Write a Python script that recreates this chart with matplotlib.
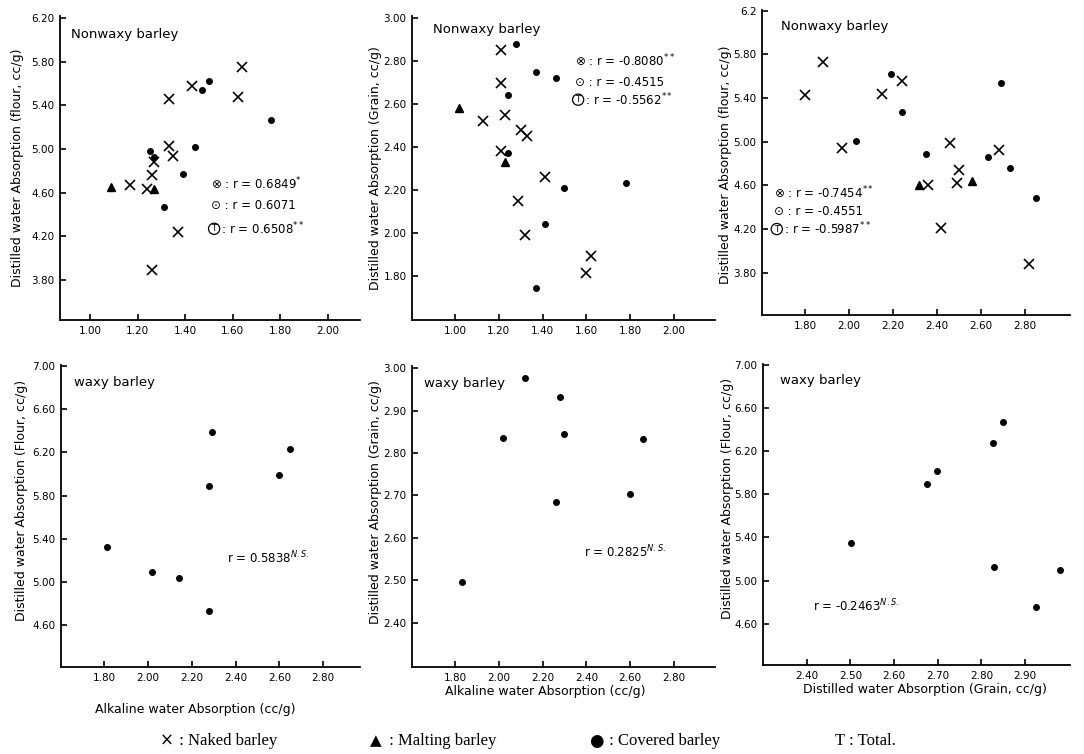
import matplotlib
matplotlib.use("Agg")
import matplotlib.pyplot as plt

W, H = 1084, 754

# ---------------- data ----------------
# Panel 1: Nonwaxy, alkaline water absorption vs distilled water absorption (flour)
p1_naked_x = [1.64, 1.43, 1.33, 1.62, 1.33, 1.35, 1.27, 1.26, 1.17, 1.24, 1.37, 1.26]
p1_naked_y = [5.75, 5.58, 5.46, 5.48, 5.03, 4.94, 4.88, 4.76, 4.67, 4.63, 4.24, 3.89]
p1_covered_x = [1.50, 1.47, 1.76, 1.25, 1.27, 1.44, 1.39, 1.31]
p1_covered_y = [5.62, 5.54, 5.27, 4.98, 4.93, 5.02, 4.77, 4.47]
p1_malting_x = [1.09, 1.27]
p1_malting_y = [4.65, 4.63]

# Panel 2: Nonwaxy, alkaline vs distilled water absorption (grain)
p2_naked_x = [1.21, 1.21, 1.23, 1.13, 1.30, 1.33, 1.21, 1.41, 1.29, 1.32, 1.62, 1.60]
p2_naked_y = [2.85, 2.70, 2.55, 2.52, 2.48, 2.45, 2.38, 2.26, 2.15, 1.99, 1.89, 1.81]
p2_covered_x = [1.28, 1.37, 1.46, 1.24, 1.24, 1.50, 1.78, 1.41, 1.37]
p2_covered_y = [2.88, 2.75, 2.72, 2.64, 2.37, 2.21, 2.23, 2.04, 1.74]
p2_malting_x = [1.02, 1.23]
p2_malting_y = [2.58, 2.33]

# Panel 3: Nonwaxy, distilled (grain) vs distilled (flour)
p3_naked_x = [1.88, 1.80, 2.15, 2.24, 1.97, 2.46, 2.68, 2.50, 2.49, 2.36, 2.42, 2.82]
p3_naked_y = [5.73, 5.43, 5.44, 5.56, 4.94, 4.99, 4.92, 4.74, 4.62, 4.60, 4.21, 3.88]
p3_covered_x = [2.19, 2.24, 2.03, 2.35, 2.69, 2.63, 2.73, 2.85]
p3_covered_y = [5.62, 5.27, 5.01, 4.89, 5.54, 4.86, 4.76, 4.48]
p3_malting_x = [2.32, 2.56]
p3_malting_y = [4.60, 4.64]

# Panel 4-6: Waxy barley (covered)
p4_x = [2.29, 2.65, 2.60, 2.28, 1.81, 2.02, 2.14, 2.28]
p4_y = [6.39, 6.23, 5.99, 5.89, 5.32, 5.09, 5.04, 4.73]
p5_x = [2.12, 2.28, 2.30, 2.02, 2.66, 2.26, 2.60, 1.83]
p5_y = [2.977, 2.932, 2.846, 2.835, 2.832, 2.684, 2.704, 2.496]
p6_x = [2.850, 2.826, 2.698, 2.675, 2.501, 2.829, 2.980, 2.925]
p6_y = [6.47, 6.28, 6.02, 5.90, 5.35, 5.13, 5.10, 4.75]

r_top = [["0.6849*", "0.6071", "0.6508**"],
         ["-0.8080**", "-0.4515", "-0.5562**"],
         ["-0.7454**", "-0.4551", "-0.5987**"]]
r_bottom = ["0.5838", "0.2825", "-0.2463"]

fig = plt.figure(figsize=(W / 100, H / 100), dpi=100)
plt.rcParams['font.family'] = ['DejaVu Sans']


def add_ax(l, t, r, b, xlim, ylim, xticks, yticks, yticklabels=None):
    ax = fig.add_axes([l / W, 1 - b / H, (r - l) / W, (b - t) / H])
    ax.set_xlim(*xlim)
    ax.set_ylim(*ylim)
    for s in ("top", "right"):
        ax.spines[s].set_visible(False)
    for s in ("left", "bottom"):
        ax.spines[s].set_linewidth(1.3)
    ax.set_xticks(xticks)
    ax.set_xticklabels([f"{v:.2f}" for v in xticks])
    ax.set_yticks(yticks)
    ax.set_yticklabels(yticklabels if yticklabels else [f"{v:.2f}" for v in yticks])
    ax.tick_params(direction="in", length=4, width=1.2, labelsize=7.5, pad=4)
    return ax


def draw(ax, nx=None, ny=None, cx=None, cy=None, mx=None, my=None):
    if nx:
        ax.plot(nx, ny, "x", color="black", ms=6.5, mew=1.2, ls="none")
    if cx:
        ax.plot(cx, cy, "o", color="black", ms=4, ls="none")
    if mx:
        ax.plot(mx, my, "^", color="black", ms=6, ls="none")


def rblock(ax, x, ys, vals):
    syms = ["⊗", "⊙", None]
    for s, y, v in zip(syms, ys, vals):
        base, star = (v.rstrip("*"), v[len(v.rstrip("*")):])
        body = f" : r = {base}" + (f"$^{{{star}}}$" if star else "")
        if s is None:
            t = ax.text(x, y, "T", fontsize=6.5, va="center", ha="left",
                        bbox=dict(boxstyle="circle,pad=0.12", fc="none", ec="black", lw=0.9))
            ax.annotate(body, xy=(1, 0.5), xycoords=t, xytext=(1, 0),
                        textcoords="offset points", fontsize=8.5, va="center", ha="left")
        else:
            ax.text(x, y, s + body, fontsize=8.5, va="center", ha="left")


# ---- top row ----
ax1 = add_ax(60, 16, 360, 320, (0.874, 2.134), (3.434, 6.22),
             [1.0, 1.2, 1.4, 1.6, 1.8, 2.0], [3.8, 4.2, 4.6, 5.0, 5.4, 5.8, 6.2])
draw(ax1, p1_naked_x, p1_naked_y, p1_covered_x, p1_covered_y, p1_malting_x, p1_malting_y)
rblock(ax1, 1.51, [4.68, 4.48, 4.27], r_top[0])
ax1.text(0.92, 6.02, "Nonwaxy barley", fontsize=9.5)

ax2 = add_ax(412, 16, 715, 320, (0.804, 2.187), (1.593, 3.01),
             [1.0, 1.2, 1.4, 1.6, 1.8, 2.0], [1.8, 2.0, 2.2, 2.4, 2.6, 2.8, 3.0])
draw(ax2, p2_naked_x, p2_naked_y, p2_covered_x, p2_covered_y, p2_malting_x, p2_malting_y)
rblock(ax2, 1.55, [2.80, 2.70, 2.62], r_top[1])
ax2.text(0.90, 2.93, "Nonwaxy barley", fontsize=9.5)

ax3 = add_ax(762, 10, 1070, 315, (1.605, 3.005), (3.413, 6.206),
             [1.8, 2.0, 2.2, 2.4, 2.6, 2.8], [3.8, 4.2, 4.6, 5.0, 5.4, 5.8, 6.2],
             ["3.80", "4.20", "4.60", "5.00", "5.40", "5.80", "6.2"])
draw(ax3, p3_naked_x, p3_naked_y, p3_covered_x, p3_covered_y, p3_malting_x, p3_malting_y)
rblock(ax3, 1.66, [4.53, 4.36, 4.20], r_top[2])
ax3.text(1.69, 6.02, "Nonwaxy barley", fontsize=9.5)

# ---- bottom row ----
ax4 = add_ax(61, 365, 360, 667, (1.602, 2.968), (4.211, 7.01),
             [1.8, 2.0, 2.2, 2.4, 2.6, 2.8], [4.6, 5.0, 5.4, 5.8, 6.2, 6.6, 7.0])
draw(ax4, cx=p4_x, cy=p4_y)
ax4.text(2.36, 5.22, f"r = {r_bottom[0]}$^{{N.S.}}$", fontsize=8.5, va="center")
ax4.text(1.66, 6.82, "waxy barley", fontsize=9.5)

ax5 = add_ax(412, 366, 715, 667, (1.604, 2.987), (2.296, 3.005),
             [1.8, 2.0, 2.2, 2.4, 2.6, 2.8], [2.4, 2.5, 2.6, 2.7, 2.8, 2.9, 3.0])
draw(ax5, cx=p5_x, cy=p5_y)
ax5.text(2.39, 2.566, f"r = {r_bottom[1]}$^{{N.S.}}$", fontsize=8.5, va="center")
ax5.text(1.66, 2.955, "waxy barley", fontsize=9.5)

ax6 = add_ax(763, 364, 1070, 665, (2.30, 3.003), (4.216, 7.01),
             [2.4, 2.5, 2.6, 2.7, 2.8, 2.9], [4.6, 5.0, 5.4, 5.8, 6.2, 6.6, 7.0])
draw(ax6, cx=p6_x, cy=p6_y)
ax6.text(2.415, 4.76, f"r = {r_bottom[2]}$^{{N.S.}}$", fontsize=8.5, va="center")
ax6.text(2.34, 6.82, "waxy barley", fontsize=9.5)

# ---- axis labels (figure pixel positions) ----
def ftext(x, y, s, **kw):
    fig.text(x / W, 1 - y / H, s, **kw)

ylab_flour = "Distilled water Absorption (flour, cc/g)"
ylab_grain = "Distilled water Absorption (Grain, cc/g)"
ylab_Flour = "Distilled water Absorption (Flour, cc/g)"
for x, y, s in [(18, 168, ylab_flour), (375, 168, ylab_grain), (726, 165, ylab_flour),
                (22, 500, ylab_Flour), (376, 502, ylab_grain), (727, 498, ylab_Flour)]:
    ftext(x, y, s, rotation=90, ha="center", va="center", fontsize=9)

ftext(195, 710, "Alkaline water Absorption (cc/g)", ha="center", va="center", fontsize=9)
ftext(545, 692, "Alkaline water Absorption (cc/g)", ha="center", va="center", fontsize=9)
ftext(925, 690, "Distilled water Absorption (Grain, cc/g)", ha="center", va="center", fontsize=9)

# ---- legend line ----
serif = ["Liberation Serif", "DejaVu Serif"]
ftext(160, 741, "×", fontsize=12, family=["DejaVu Sans"], va="center")
ftext(175, 741, " : Naked barley", fontsize=12, family=serif, va="center")
ftext(370, 741, "▲", fontsize=11, family=["DejaVu Sans"], va="center")
ftext(385, 741, " : Malting barley", fontsize=12, family=serif, va="center")
ftext(589, 741, "●", fontsize=12, family=["DejaVu Sans"], va="center")
ftext(605, 741, " : Covered barley", fontsize=12, family=serif, va="center")
ftext(835, 741, "T : Total.", fontsize=12, family=serif, va="center")

fig.savefig("out.png", dpi=100)
